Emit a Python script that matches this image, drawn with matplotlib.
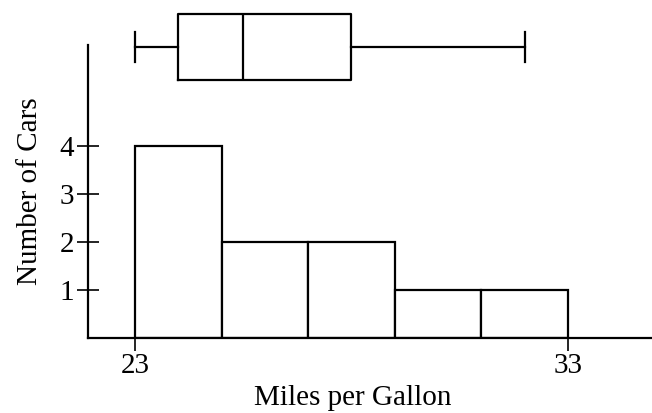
import matplotlib.pyplot as plt

plt.rcParams['font.family'] = ['Liberation Serif', 'DejaVu Serif']

bin_edges = [23, 25, 27, 29, 31, 33]
counts = [4, 2, 2, 1, 1]
box_min, box_q1, box_med, box_q3, box_max = 23, 24, 25.5, 28, 32
xticks = [23, 33]
yticks = [1, 2, 3, 4]

fig = plt.figure(figsize=(6.52, 4.13), dpi=100)
ax = fig.add_axes([88 / 652, 75 / 413, 1 - 88 / 652, 293 / 413])

widths = [b - a for a, b in zip(bin_edges[:-1], bin_edges[1:])]
ax.bar(bin_edges[:-1], counts, width=widths, align='edge',
       color='white', edgecolor='black', linewidth=1.6)

xlim = (23 - 47 / 43.3, 23 + 517 / 43.3)
ax.set_xlim(*xlim)
ax.set_ylim(0, 293 / 48)
ax.spines['top'].set_visible(False)
ax.spines['right'].set_visible(False)
ax.spines['left'].set_linewidth(1.6)
ax.spines['bottom'].set_linewidth(1.6)
ax.set_xticks(xticks)
ax.set_yticks(yticks)
ax.tick_params(axis='y', direction='inout', length=16, width=1.2, pad=2, labelsize=21)
ax.tick_params(axis='x', direction='out', length=9, width=1.2, pad=2, labelsize=21)
ax.set_xlabel('Miles per Gallon', fontsize=21)
ax.xaxis.set_label_coords((353 - 88) / (652 - 88), -0.16)
ax.set_ylabel('Number of Cars', fontsize=21, labelpad=12)

# box plot above the histogram
bx = fig.add_axes([88 / 652, (413 - 80) / 413, 1 - 88 / 652, 66 / 413])
stats = [{'whislo': box_min, 'q1': box_q1, 'med': box_med, 'q3': box_q3,
          'whishi': box_max, 'fliers': []}]
lw = 1.6
bx.bxp(stats, positions=[0.5], widths=1.0, vert=False, showfliers=False,
       capwidths=[0.44],
       boxprops=dict(color='black', linewidth=lw),
       whiskerprops=dict(color='black', linewidth=lw),
       capprops=dict(color='black', linewidth=lw),
       medianprops=dict(color='black', linewidth=lw))
bx.set_xlim(*xlim)
bx.set_ylim(0, 1)
bx.axis('off')
for art in bx.get_children():
    try:
        art.set_clip_on(False)
    except Exception:
        pass

fig.savefig('out.png', dpi=100)
